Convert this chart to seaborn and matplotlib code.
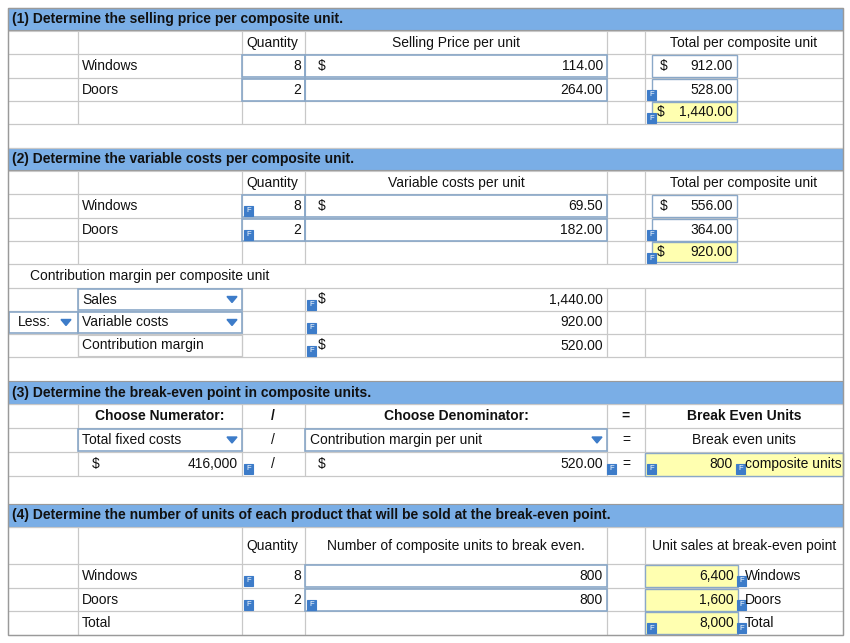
import matplotlib
matplotlib.use("Agg")
import matplotlib.pyplot as plt
import seaborn as sns
from matplotlib.patches import Rectangle, Polygon

sns.set_theme(style="white", font="Liberation Sans")

# ---- data ----
products = ["Windows", "Doors"]
quantity = [8, 2]
price = [114.00, 264.00]
total_price = [912.00, 528.00]
composite_price = 1440.00
var_cost = [69.50, 182.00]
total_var = [556.00, 364.00]
composite_var = 920.00
cm_labels = ["Sales", "Variable costs", "Contribution margin"]
cm_values = [1440.00, 920.00, 520.00]
fixed_costs = 416000
cm_per_unit = 520.00
be_units = 800
be_products = [6400, 1600]
be_total = 8000
headers = ["(1) Determine the selling price per composite unit.",
           "(2) Determine the variable costs per composite unit.",
           "(3) Determine the break-even point in composite units.",
           "(4) Determine the number of units of each product that will be sold at the break-even point."]

BLUE = "#7aaee6"
YEL = "#ffffb0"
GRID = "#c8c8c8"
BOX = "#8aa8c8"
FS = 10

fig = plt.figure(figsize=(8.5, 6.43), dpi=100)
ax = fig.add_axes([0, 0, 1, 1])
ax.set_xlim(0, 850)
ax.set_ylim(643, 0)
ax.axis("off")

def rect(x0, y0, x1, y1, fc="none", ec=GRID, lw=0.8, z=1):
    ax.add_patch(Rectangle((x0, y0), x1 - x0, y1 - y0, fc=fc, ec=ec, lw=lw, zorder=z))

def txt(x, y, s, ha="left", bold=False, size=FS):
    ax.text(x, y, s, ha=ha, va="center", fontsize=size,
            fontweight="bold" if bold else "normal", color="#111111", zorder=5)

def fmark(x, y):
    rect(x, y - 5, x + 9, y + 5, fc="#3d7cc9", ec="#3d7cc9", z=4)
    ax.text(x + 4.5, y, "F", ha="center", va="center", fontsize=5.5, color="white", zorder=6)

def drop(x, y):
    ax.add_patch(Polygon([[x - 5, y - 3], [x + 5, y - 3], [x, y + 3]], color="#3d7cc9", zorder=5))

def money(v):
    return f"{v:,.2f}"

cols = [8, 78, 242, 305, 607, 645, 843]

def grid_rows(rows):
    for y0, y1 in rows:
        for a, b in zip(cols[:-1], cols[1:]):
            rect(a, y0, b, y1)

def header(y0, y1, s):
    rect(8, y0, 843, y1, fc=BLUE, ec="#9a9a9a")
    txt(12, (y0 + y1) / 2, s, bold=True)

# section 1 and 2
for sec, (top, vals, tots, comp, title) in enumerate([
        (8, price, total_price, composite_price, "Selling Price per unit"),
        (148, var_cost, total_var, composite_var, "Variable costs per unit")]):
    header(top, top + 22, headers[sec])
    rows = [(top + 23, top + 46), (top + 46, top + 70), (top + 70, top + 93), (top + 93, top + 116)]
    grid_rows(rows)
    txt(272, top + 35, "Quantity", ha="center")
    txt(456, top + 35, title, ha="center")
    txt(744, top + 35, "Total per composite unit", ha="center")
    for i, p in enumerate(products):
        yc = top + 58 + i * 23.5
        txt(82, yc, p)
        rect(242, yc - 11, 305, yc + 11, ec=BOX, lw=1.2, z=2)
        rect(305, yc - 11, 607, yc + 11, ec=BOX, lw=1.2, z=2)
        txt(301, yc, str(quantity[i]), ha="right")
        if i == 0:
            txt(318, yc, "$")
            txt(660, yc, "$")
        txt(603, yc, money(vals[i]), ha="right")
        txt(733, yc, money(tots[i]), ha="right")
        rect(652, yc - 11, 737, yc + 11, ec=BOX, lw=1.0, z=2)
        if sec == 1:
            fmark(244, yc + 5)
        if i == 1:
            fmark(647, yc + 5)
    yc = top + 104
    rect(652, yc - 10, 737, yc + 10, fc=YEL, ec=BOX, lw=1.0, z=2)
    txt(657, yc, "$")
    txt(733, yc, money(comp), ha="right")
    fmark(647, yc + 6)

rect(8, 124, 843, 148)
# contribution margin block
rect(8, 264, 843, 288)
txt(30, 276, "Contribution margin per composite unit")
for i, lab in enumerate(cm_labels):
    y0 = 288 + i * 23
    grid_rows([(y0, y0 + 23)])
    yc = y0 + 11.5
    rect(78, y0 + 1, 242, y0 + 22, ec=BOX if i < 2 else GRID, lw=1.2 if i < 2 else 0.8, z=2)
    txt(82, yc, lab)
    if i < 2:
        drop(232, yc)
    txt(603, yc, money(cm_values[i]), ha="right")
    if i != 1:
        txt(318, yc, "$")
    fmark(307, yc + 5)
rect(9, 312, 78, 333, ec=BOX, lw=1.2, z=2)
txt(18, 322.5, "Less:")
drop(66, 322.5)
rect(8, 357, 843, 381)

# section 3
header(381, 404, headers[2])
grid_rows([(404, 428), (428, 452), (452, 476)])
txt(160, 416, "Choose Numerator:", ha="center", bold=True)
txt(273, 416, "/", ha="center", bold=True)
txt(456, 416, "Choose Denominator:", ha="center", bold=True)
txt(626, 416, "=", ha="center", bold=True)
txt(744, 416, "Break Even Units", ha="center", bold=True)
rect(78, 429, 242, 451, ec=BOX, lw=1.2, z=2)
txt(82, 440, "Total fixed costs")
drop(232, 440)
txt(273, 440, "/", ha="center")
rect(305, 429, 607, 451, ec=BOX, lw=1.2, z=2)
txt(310, 440, "Contribution margin per unit")
drop(597, 440)
txt(626, 440, "=", ha="center")
txt(744, 440, "Break even units", ha="center")
txt(92, 464, "$")
txt(238, 464, f"{fixed_costs:,}", ha="right")
fmark(244, 469)
txt(273, 464, "/", ha="center")
txt(318, 464, "$")
txt(603, 464, money(cm_per_unit), ha="right")
fmark(607, 469)
txt(626, 464, "=", ha="center")
fmark(647, 469)
rect(645, 453, 843, 476, fc=YEL, ec=BOX, lw=1.0, z=2)
txt(733, 464, f"{be_units:,}", ha="right")
fmark(736, 469)
txt(745, 464, "composite units")
rect(8, 476, 843, 504)

# section 4
header(504, 527, headers[3])
grid_rows([(527, 564), (564, 588), (588, 611), (611, 635)])
txt(272, 546, "Quantity", ha="center")
txt(456, 546, "Number of composite units to break even.", ha="center")
txt(744, 546, "Unit sales at break-even point", ha="center")
for i, p in enumerate(products + ["Total"]):
    yc = 576 + i * 23.5
    txt(82, yc, p)
    if i < 2:
        fmark(244, yc + 5)
        rect(305, yc - 11, 607, yc + 11, ec=BOX, lw=1.2, z=2)
        txt(301, yc, str(quantity[i]), ha="right")
        txt(603, yc, f"{be_units:,}", ha="right")
        val = be_products[i]
    else:
        val = be_total
        fmark(647, yc + 5)
    if i == 1:
        fmark(307, yc + 5)
    rect(645, yc - 11, 738, yc + 11, fc=YEL, ec=BOX, lw=1.0, z=2)
    txt(734, yc, f"{val:,}", ha="right")
    fmark(737, yc + 5)
    txt(745, yc, p)

rect(8, 8, 843, 635, ec="#9a9a9a", lw=1.0, z=3)
fig.savefig("out.png", dpi=100, facecolor="white")
